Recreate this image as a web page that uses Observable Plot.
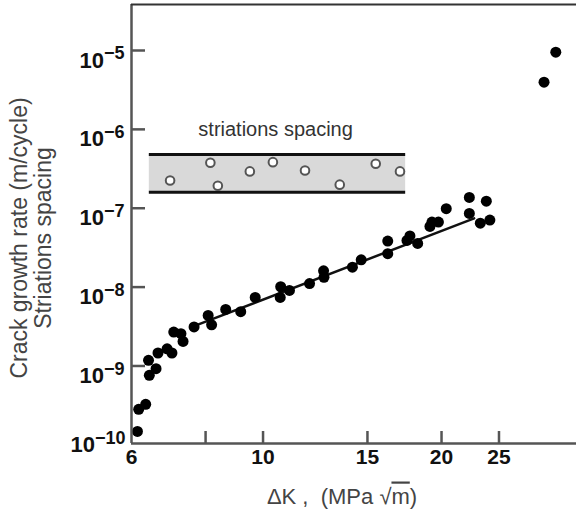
<!DOCTYPE html>
<html><head><meta charset="utf-8">
<script src="https://cdn.jsdelivr.net/npm/d3@7"></script>
<script src="https://cdn.jsdelivr.net/npm/@observablehq/plot@0.6"></script>
<style>body{margin:0;background:#fff} svg{display:block}</style>
</head><body><div id="chart"></div>
<script>
// Crack growth rate (filled dots)
const crackK = [6.14, 6.17, 6.34, 6.41, 6.43, 6.60, 6.65, 6.89, 7.02, 7.07, 7.27, 7.33, 7.65, 8.08, 8.19, 8.65, 9.17, 9.70, 10.69, 10.71, 11.08, 11.98, 12.65, 12.67, 14.15, 14.64, 16.23, 16.23, 17.49, 17.69, 18.23, 19.12, 19.27, 19.76, 20.37, 22.28, 22.28, 23.25, 23.80, 24.13, 29.78, 31.17];
const crackRate = [1.48e-10, 2.82e-10, 3.26e-10, 1.18e-9, 7.6e-10, 9.24e-10, 1.46e-9, 1.65e-9, 1.46e-9, 2.69e-9, 2.57e-9, 2.05e-9, 3.13e-9, 4.38e-9, 3.32e-9, 5.21e-9, 4.88e-9, 7.4e-9, 7.4e-9, 1.01e-8, 9.08e-9, 1.11e-8, 1.61e-8, 1.33e-8, 1.79e-8, 2.22e-8, 2.65e-8, 3.83e-8, 3.91e-8, 4.46e-8, 3.58e-8, 5.88e-8, 6.67e-8, 6.67e-8, 9.86e-8, 1.37e-7, 8.59e-8, 6.47e-8, 1.23e-7, 7.07e-8, 3.96e-6, 9.52e-6];
// Striations spacing (open circles)
const striationK = [6.97, 8.15, 8.39, 9.50, 10.39, 11.77, 13.47, 15.49, 17.02];
const striationSpacing = [2.25e-7, 3.77e-7, 1.93e-7, 2.93e-7, 3.84e-7, 3.01e-7, 1.99e-7, 3.66e-7, 2.93e-7];
// Striation band
const bandK = [6.43, 17.4];
const bandSpacing = [1.6e-7, 4.8e-7];
const bandLabel = ["striations spacing"];
const bandLabelPos = [10.5, 1e-6];
// Fitted line
const fitK = [7.55, 22.7];
const fitRate = [3.08e-9, 7.43e-8];
// Axes
const xTicks = [6, 8, 10, 15, 20, 25];
const yTicks = [1e-5, 1e-6, 1e-7, 1e-8, 1e-9];
const yBottomTick = [1e-10];
const xDomain = [6, 33.78];
const yDomain = [1.04e-10, 3.83e-5];
const yTitle = "Crack growth rate (m/cycle)\nStriations spacing";
const xTitle = "ΔK ,\u00a0\u00a0(MPa √m)";

const crack = crackK.map((k, i) => ({k, v: crackRate[i]}));
const striation = striationK.map((k, i) => ({k, v: striationSpacing[i]}));
const fit = fitK.map((k, i) => ({k, v: fitRate[i]}));
const band = [{x1: bandK[0], x2: bandK[1], y1: bandSpacing[0], y2: bandSpacing[1]}];

const W = 576, H = 519, ML = 131, MR = 0, MT = 4, MB = 76;
const PW = W - ML - MR, PH = H - MT - MB;
const axisGray = "#555";
const expFmt = d => "10^" + Math.round(Math.log10(d));

const svg = Plot.plot({
  width: W, height: H,
  marginLeft: ML, marginRight: MR, marginTop: MT, marginBottom: MB,
  x: {type: "log", domain: xDomain},
  y: {type: "log", domain: yDomain},
  style: {fontFamily: "'Liberation Sans', Arial, sans-serif", background: "#fff", overflow: "visible"},
  marks: [
    Plot.rect(band, {x1: "x1", x2: "x2", y1: "y1", y2: "y2", fill: "#d9d9d9"}),
    Plot.ruleY(bandSpacing, {x1: () => bandK[0], x2: () => bandK[1], stroke: "#111", strokeWidth: 3}),
    Plot.text(bandLabel, {x: () => bandLabelPos[0], y: () => bandLabelPos[1], text: d => d, fontSize: 20, fill: "#333"}),
    Plot.dot(striation, {x: "k", y: "v", r: 4.3, fill: "#fff", stroke: "#555", strokeWidth: 2}),
    Plot.line(fit, {x: "k", y: "v", stroke: "#111", strokeWidth: 2.5}),
    Plot.dot(crack, {x: "k", y: "v", r: 5.5, fill: "#000"}),
    // frame lines and inward ticks
    Plot.ruleY(yTicks, {stroke: axisGray, strokeWidth: 2.5, insetRight: PW - 14}),
    Plot.ruleX(xTicks.slice(1), {stroke: axisGray, strokeWidth: 2.5, insetTop: PH - 12}),
    Plot.ruleX([xDomain[0]], {stroke: axisGray, strokeWidth: 2.5}),
    Plot.ruleY([yDomain[0]], {stroke: axisGray, strokeWidth: 2.5}),
    Plot.ruleY([yDomain[1]], {stroke: "#333", strokeWidth: 2}),
    // tick labels
    Plot.axisX(xTicks, {tickSize: 0, tickPadding: 6, fontSize: 21, fontWeight: "bold", fill: "#111", label: null, tickFormat: d => String(d)}),
    Plot.axisY(yTicks, {tickSize: 0, tickPadding: 7, dy: 10, fontSize: 22, fontWeight: "bold", fill: "#111", label: null, tickFormat: expFmt}),
    Plot.axisY(yBottomTick, {tickSize: 0, tickPadding: 6, dy: 0, fontSize: 22, fontWeight: "bold", fill: "#111", label: null, tickFormat: expFmt}),
    // titles
    Plot.text([yTitle], {frameAnchor: "left", text: d => d, rotate: -90, dx: -100, dy: 14, fontSize: 23, lineHeight: 1.05, fill: "#444", textAnchor: "middle"}),
    Plot.text([xTitle], {frameAnchor: "bottom", text: d => d, dx: -12, dy: 60, fontSize: 22, fill: "#444"})
  ]
});

const NS = "http://www.w3.org/2000/svg";
svg.querySelectorAll("text").forEach(t => {
  const s = t.textContent;
  const m = /^10\^(-?\d+)$/.exec(s);
  if (m) {
    t.textContent = "10";
    const ts = document.createElementNS(NS, "tspan");
    ts.setAttribute("dy", "-0.45em");
    ts.setAttribute("font-size", "18");
    ts.textContent = "\u2212" + m[1].replace("-", "");
    t.appendChild(ts);
  } else if (s.includes("MPa")) {
    t.textContent = "ΔK ,\u00a0\u00a0(MPa √";
    const ts = document.createElementNS(NS, "tspan");
    ts.setAttribute("text-decoration", "overline");
    ts.textContent = "m";
    t.appendChild(ts);
    t.appendChild(document.createTextNode(")"));
  }
});
document.getElementById("chart").appendChild(svg);
</script>
</body></html>
